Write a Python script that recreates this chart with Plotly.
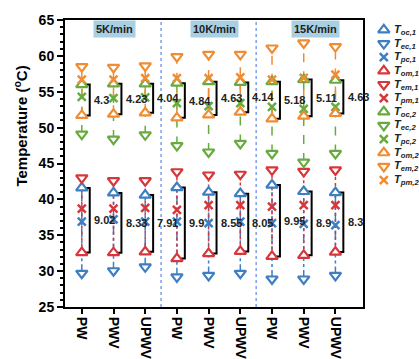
import plotly.graph_objects as go

# ---- data -------------------------------------------------------------
categories = ["PW", "PWV", "UPWV", "PW", "PWV", "UPWV", "PW", "PWV", "UPWV"]
rates = ["5K/min", "10K/min", "15K/min"]
rate_centers = [1.04, 4.2, 7.37]

# stage 1 (lower band)
T_oc1 = [41.6, 40.9, 40.6, 41.65, 41.0, 40.8, 42.0, 41.1, 40.95]
T_ec1 = [29.7, 30.05, 30.6, 29.2, 29.4, 29.7, 28.9, 28.9, 29.4]
T_pc1 = [36.9, 37.2, 36.9, 36.9, 36.7, 36.9, 36.7, 36.6, 36.4]
T_om1 = [32.58, 32.57, 32.69, 31.75, 32.45, 32.75, 32.05, 32.2, 32.65]
T_em1 = [43.0, 42.6, 42.6, 43.85, 43.4, 43.5, 44.1, 43.9, 44.1]
T_pm1 = [38.7, 38.7, 38.8, 38.55, 39.2, 39.2, 39.0, 39.2, 39.2]
gap1 = ["9.02", "8.33", "7.91", "9.9", "8.55", "8.05", "9.95", "8.9", "8.3"]

# stage 2 (upper band)
T_oc2 = [56.0, 56.1, 56.1, 56.2, 56.4, 56.3, 56.4, 56.7, 56.6]
T_ec2 = [49.1, 48.4, 49.0, 47.5, 46.6, 47.8, 46.4, 45.2, 46.4]
T_pc2 = [54.3, 54.1, 54.2, 53.4, 53.0, 53.4, 52.9, 52.6, 52.9]
T_om2 = [51.7, 51.87, 52.06, 51.36, 51.77, 52.16, 51.22, 51.59, 51.97]
T_em2 = [58.5, 58.4, 58.6, 59.9, 60.2, 60.2, 61.1, 61.8, 61.3]
T_pm2 = [56.7, 56.7, 56.9, 56.9, 56.9, 57.0, 56.7, 56.95, 57.4]
gap2 = ["4.3", "4.23", "4.04", "4.84", "4.63", "4.14", "5.18", "5.11", "4.63"]

# ---- styling ------------------------------------------------------------
BLUE, RED, GREEN, ORANGE = "#3d7fc2", "#d7373b", "#67ab3f", "#f08c33"
FONT = "Liberation Sans, Arial, Helvetica, sans-serif"
xs = list(range(len(categories)))

fig = go.Figure()


def stems(lo, hi, color, dash):
    """Vertical connector through one colour's readings in every category."""
    x, y = [], []
    for i in xs:
        x += [i, i, None]
        y += [lo[i], hi[i], None]
    fig.add_trace(go.Scatter(x=x, y=y, mode="lines", hoverinfo="skip",
                             line=dict(color=color, width=1.5, dash=dash),
                             showlegend=False))


stems(T_ec1, T_oc1, BLUE, "dashdot")
stems(T_om1, T_em1, RED, "dot")
stems(T_ec2, T_oc2, GREEN, "dash")
stems(T_om2, T_em2, ORANGE, "dash")


def brackets(top, bottom, labels):
    """']'-shaped bracket between T_oc and T_om with its gap label."""
    x, y = [], []
    for i in xs:
        x += [i + 0.08, i + 0.25, i + 0.25, i + 0.08, None]
        y += [top[i], top[i], bottom[i], bottom[i], None]
    fig.add_trace(go.Scatter(x=x, y=y, mode="lines", hoverinfo="skip",
                             line=dict(color="black", width=2),
                             showlegend=False))
    for i in xs:
        fig.add_annotation(x=i + 0.32, y=(top[i] + bottom[i]) / 2,
                           xref="x", yref="y", text="<b>%s</b>" % labels[i],
                           showarrow=False, xanchor="left", yanchor="middle",
                           font=dict(family=FONT, size=11, color="#222"))


brackets(T_oc1, T_om1, gap1)
brackets(T_oc2, T_om2, gap2)

series = [
    ("T", "oc,1", T_oc1, BLUE, "triangle-up"),
    ("T", "ec,1", T_ec1, BLUE, "triangle-down"),
    ("T", "pc,1", T_pc1, BLUE, "x-thin"),
    ("T", "om,1", T_om1, RED, "triangle-up"),
    ("T", "em,1", T_em1, RED, "triangle-down"),
    ("T", "pm,1", T_pm1, RED, "x-thin"),
    ("T", "oc,2", T_oc2, GREEN, "triangle-up"),
    ("T", "ec,2", T_ec2, GREEN, "triangle-down"),
    ("T", "pc,2", T_pc2, GREEN, "x-thin"),
    ("T", "om,2", T_om2, ORANGE, "triangle-up"),
    ("T", "em,2", T_em2, ORANGE, "triangle-down"),
    ("T", "pm,2", T_pm2, ORANGE, "x-thin"),
]


def marker_style(color, symbol, size=10):
    if symbol == "x-thin":
        return dict(symbol=symbol, size=size - 2, color=color,
                    line=dict(color=color, width=2.5))
    return dict(symbol=symbol, size=size, color="white",
                line=dict(color=color, width=2.2))


for base, sub, vals, color, symbol in series:
    fig.add_trace(go.Scatter(x=xs, y=vals, mode="markers",
                             name=f"{base}{sub}",
                             marker=marker_style(color, symbol),
                             showlegend=False))

# ---- legend drawn on its own hidden axis pair --------------------------
LEG_MARK_X, LEG_TEXT_X = 0.29, 0.45
for k, (base, sub, vals, color, symbol) in enumerate(series):
    fig.add_trace(go.Scatter(x=[LEG_MARK_X], y=[k], mode="markers",
                             xaxis="x2", yaxis="y2", hoverinfo="skip",
                             marker=marker_style(color, symbol),
                             showlegend=False))
    fig.add_annotation(x=LEG_TEXT_X, y=k, xref="x2", yref="y2",
                       text=f"<b><i>{base}<sub>{sub}</sub></i></b>",
                       showarrow=False, xanchor="left", yanchor="middle",
                       font=dict(family=FONT, size=11, color="#222"))

# ---- heating-rate headers and group dividers ---------------------------
for label, cx in zip(rates, rate_centers):
    fig.add_annotation(x=cx, y=0.968, xref="x", yref="paper",
                       text=f"<b>{label}</b>", showarrow=False,
                       xanchor="center", yanchor="middle",
                       bgcolor="#a8d0e2", borderpad=2,
                       font=dict(family=FONT, size=11, color="#222"))

for xv in (2.5, 5.5):
    fig.add_shape(type="line", xref="x", yref="paper", x0=xv, x1=xv,
                  y0=0, y1=1, line=dict(color="#7f9de8", width=1.5, dash="dot"))

fig.add_annotation(x=-0.127, y=0.629, xref="paper", yref="paper",
                   text="<b>Temperature (<sup>o</sup>C)</b>", textangle=-90,
                   showarrow=False, xanchor="center", yanchor="middle",
                   font=dict(family=FONT, size=15, color="black"))

axis_common = dict(showline=True, linewidth=2, linecolor="black", mirror=True,
                   ticks="outside", tickcolor="black", showgrid=False,
                   zeroline=False)

fig.update_layout(
    width=419, height=359,
    margin=dict(l=65, r=0, t=20, b=49),
    paper_bgcolor="white", plot_bgcolor="white",
    font=dict(family=FONT, color="black"),
    xaxis=dict(domain=[0, 298 / 354], range=[-0.53, 8.87],
               tickvals=xs, ticktext=categories, tickangle=90,
               ticklen=5, tickwidth=2,
               tickfont=dict(family=FONT, size=14, weight="bold"),
               **axis_common),
    yaxis=dict(range=[25, 65], dtick=5, ticklen=6, tickwidth=2,
               tickfont=dict(family=FONT, size=14, weight="bold"),
               minor=dict(dtick=1, ticks="outside", ticklen=3, tickwidth=1.5,
                          tickcolor="black"),
               **axis_common),
    xaxis2=dict(domain=[0.86, 1.0], range=[0, 1], anchor="y2", visible=False),
    yaxis2=dict(domain=[0, 1], range=[20.3, -0.725], anchor="x2", visible=False),
)

fig.write_html("out.html")
